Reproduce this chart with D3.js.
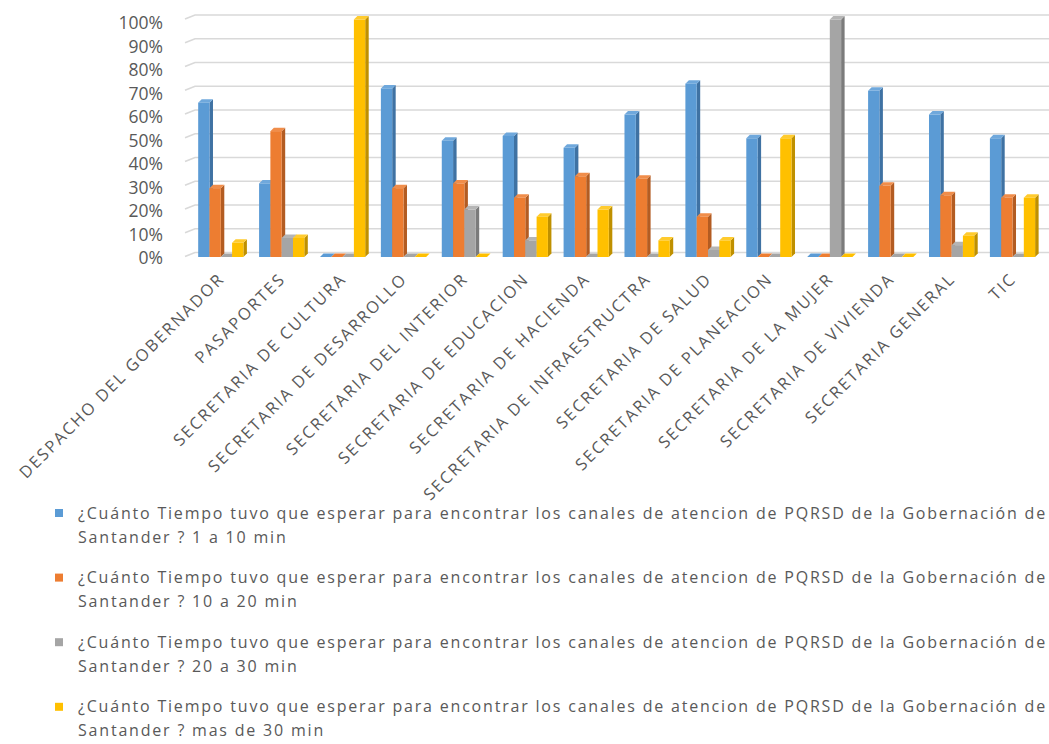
<!DOCTYPE html>
<html>
<head>
<meta charset="utf-8">
<script src="https://cdn.jsdelivr.net/npm/d3@7"></script>
<style>
  body { margin: 0; background: #fff; }
  svg { display: block; font-family: "Open Sans", sans-serif; }
  .tick-label { fill: #595959; }
</style>
</head>
<body>
<div id="chart"></div>
<script>
// ---- data (values in %) ----
const categories = [
    "DESPACHO DEL GOBERNADOR", "PASAPORTES", "SECRETARIA DE CULTURA",
    "SECRETARIA DE DESARROLLO", "SECRETARIA DEL INTERIOR", "SECRETARIA DE EDUCACION",
    "SECRETARIA DE HACIENDA", "SECRETARIA DE INFRAESTRUCTRA", "SECRETARIA DE SALUD",
    "SECRETARIA DE PLANEACION", "SECRETARIA DE LA MUJER", "SECRETARIA DE VIVIENDA",
    "SECRETARIA GENERAL", "TIC"
];
const seriesKeys = ["1 a 10 min", "10 a 20 min", "20 a 30 min", "mas de 30 min"];
const s1a10 =   [65, 31, 0, 71, 49, 51, 46, 60, 73, 50, 0, 70, 60, 50];
const s10a20 =  [29, 53, 0, 29, 31, 25, 34, 33, 17, 0, 0, 30, 26, 25];
const s20a30 =  [0, 8, 0, 0, 20, 7, 0, 0, 3, 0, 100, 0, 5, 0];
const sMas30 =  [6, 8, 100, 0, 0, 17, 20, 7, 7, 50, 0, 0, 9, 25];
const yTicks = [0, 10, 20, 30, 40, 50, 60, 70, 80, 90, 100];
const legendPrefix = "¿Cuánto Tiempo tuvo que esperar para encontrar los canales de atencion de PQRSD de la Gobernación de";
const legendSuffix = "Santander ? ";

const seriesValues = [s1a10, s10a20, s20a30, sMas30];
const colors = ["#5b9bd5", "#ed7d31", "#a5a5a5", "#ffc000"];
const sideColors = ["#3f72a3", "#b35c22", "#7b7b7b", "#bf9000"];
const topColors = ["#6fa8dc", "#f08d4a", "#b5b5b5", "#ffcb2e"];

const width = 1049, height = 744;
const svg = d3.select("#chart").append("svg")
    .attr("width", width)
    .attr("height", height);

// scales
const baseY = 257;
const y = d3.scaleLinear().domain([0, 100]).range([baseY, 19.5]);
const yLab = d3.scaleLinear().domain([0, 100]).range([258, 23]);
const x0 = d3.scaleBand().domain(categories).range([186, 1050.8]).paddingInner(0.2).paddingOuter(0.2);
const depth = 3.5;
const barStep = (x0.bandwidth() - depth) / seriesKeys.length;
const x1 = d3.scaleBand().domain(seriesKeys).range([0, barStep * seriesKeys.length]);

// gridlines (back wall, slanted start)
const wallShift = 4.5;
const grid = svg.append("g").attr("class", "grid");
yTicks.forEach(t => {
    const gy = y(t) - wallShift;
    grid.append("path")
        .attr("d", `M185,${gy + 4}L195,${gy}L${width},${gy}`)
        .attr("fill", "none")
        .attr("stroke", "#d9d9d9")
        .attr("stroke-width", 1.6);
});

// y axis labels
const yAxis = d3.axisLeft(yLab).tickValues(yTicks).tickFormat(d => d + "%").tickSize(0).tickPadding(0);
const yAxisGroup = svg.append("g")
    .attr("transform", "translate(163,0)")
    .call(yAxis);
yAxisGroup.select(".domain").remove();
yAxisGroup.selectAll("text")
    .attr("class", "tick-label")
    .attr("font-size", 17.5)
    .attr("font-family", "Open Sans, sans-serif");

// bars (3D look: front, side, top)
const bars = svg.append("g").attr("class", "bars");
categories.forEach((cat, ci) => {
    seriesKeys.forEach((key, si) => {
        const v = seriesValues[si][ci];
        const bx = x0(cat) + x1(key);
        const bw = x1.bandwidth();
        const ty = y(v);
        const g = bars.append("g");
        g.append("path")
            .attr("d", `M${bx + bw},${ty}L${bx + bw + depth},${ty - depth}L${bx + bw + depth},${baseY - depth}L${bx + bw},${baseY}Z`)
            .attr("fill", sideColors[si]);
        if (v > 0) {
            g.append("rect")
                .attr("x", bx)
                .attr("y", ty)
                .attr("width", bw)
                .attr("height", baseY - ty)
                .attr("fill", colors[si]);
        }
        g.append("path")
            .attr("d", `M${bx},${ty}L${bx + depth},${ty - depth}L${bx + bw + depth},${ty - depth}L${bx + bw},${ty}Z`)
            .attr("fill", v > 0 ? topColors[si] : colors[si]);
    });
});

// x labels rotated
const xLabels = svg.append("g").attr("class", "x-labels");
categories.forEach(cat => {
    const cx = x0(cat) + x0.bandwidth() / 2;
    xLabels.append("text")
        .attr("class", "tick-label")
        .attr("transform", `translate(${cx + 3},${280}) rotate(-45)`)
        .attr("text-anchor", "end")
        .attr("font-size", 16.5)
        .text(cat);
});
// spread letters a bit so the first label is about as long as in the picture
const firstLab = xLabels.select("text").node();
const labSpacing = Math.max(0, (282 - firstLab.getComputedTextLength()) / categories[0].length);
xLabels.selectAll("text").attr("letter-spacing", labSpacing);

// legend
const legend = svg.append("g").attr("class", "legend");
seriesKeys.forEach((key, i) => {
    const cy = 513 + i * 64.6;
    legend.append("rect")
        .attr("x", 55)
        .attr("y", cy - 4)
        .attr("width", 8)
        .attr("height", 8)
        .attr("fill", colors[i]);
    legend.append("text")
        .attr("class", "tick-label line1")
        .attr("x", 78)
        .attr("y", cy + 5.5)
        .attr("font-size", 16)
        .text(legendPrefix);
    legend.append("text")
        .attr("class", "tick-label line2")
        .attr("x", 78)
        .attr("y", cy + 29.5)
        .attr("font-size", 16)
        .text(legendSuffix + key);
});
const l1 = legend.select(".line1").node();
const legSpacing = Math.max(0, (969 - l1.getComputedTextLength()) / legendPrefix.length);
legend.selectAll("text").attr("letter-spacing", legSpacing);
</script>
</body>
</html>
